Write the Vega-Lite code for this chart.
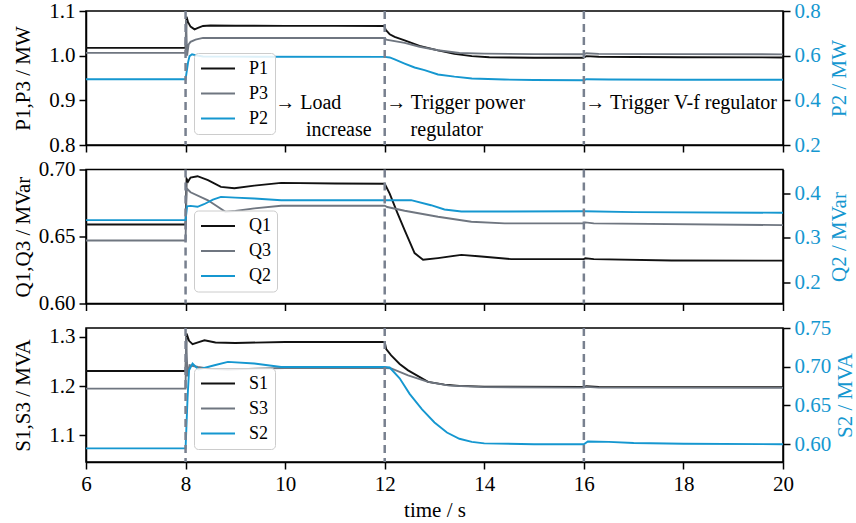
{
  "$schema": "https://vega.github.io/schema/vega-lite/v6.json",
  "padding": {"left": 11, "top": -1, "right": 0, "bottom": 0},
  "bounds": "flush",
  "spacing": 24.5,
  "config": {
    "font": "Liberation Serif",
    "view": {"stroke": "#000", "strokeWidth": 1.5},
    "axis": {"grid": false, "domainColor": "#000", "domainWidth": 1.5, "tickColor": "#000", "tickWidth": 1.5, "tickSize": 7, "labelFont": "Liberation Serif", "labelFontSize": 21, "labelColor": "#000", "titleFont": "Liberation Serif", "titleFontSize": 21, "titleFontWeight": "normal", "titleColor": "#000", "labelPadding": 4},
    "line": {"strokeWidth": 1.9, "clip": true}
  },
  "datasets": {
    "events": [{"t": 8}, {"t": 12}, {"t": 16}],
    "notes": [
      {"t": 9.8, "v": 0.893, "label": "→ Load"},
      {"t": 10.42, "v": 0.8334, "label": "increase"},
      {"t": 12.03, "v": 0.893, "label": "→ Trigger power"},
      {"t": 12.52, "v": 0.8334, "label": "regulator"},
      {"t": 16.03, "v": 0.893, "label": "→ Trigger V-f regulator"}
    ],
    "pdata": [
      {"s": "P1", "t": 6, "v": 1.0174}, {"s": "P1", "t": 8.0, "v": 1.0174}, {"s": "P1", "t": 8.02, "v": 1.087}, {"s": "P1", "t": 8.05, "v": 1.075}, {"s": "P1", "t": 8.1, "v": 1.065}, {"s": "P1", "t": 8.18, "v": 1.059}, {"s": "P1", "t": 8.25, "v": 1.062}, {"s": "P1", "t": 8.35, "v": 1.0665}, {"s": "P1", "t": 8.5, "v": 1.0675}, {"s": "P1", "t": 9, "v": 1.067}, {"s": "P1", "t": 10, "v": 1.0668}, {"s": "P1", "t": 11, "v": 1.0666}, {"s": "P1", "t": 11.99, "v": 1.0665}, {"s": "P1", "t": 12.02, "v": 1.058}, {"s": "P1", "t": 12.1, "v": 1.048}, {"s": "P1", "t": 12.2, "v": 1.042}, {"s": "P1", "t": 12.4, "v": 1.034}, {"s": "P1", "t": 12.7, "v": 1.022}, {"s": "P1", "t": 13.07, "v": 1.012}, {"s": "P1", "t": 13.4, "v": 1.004}, {"s": "P1", "t": 13.75, "v": 0.999}, {"s": "P1", "t": 14.1, "v": 0.9965}, {"s": "P1", "t": 14.5, "v": 0.9958}, {"s": "P1", "t": 15, "v": 0.9955}, {"s": "P1", "t": 15.99, "v": 0.9955}, {"s": "P1", "t": 16.05, "v": 0.999}, {"s": "P1", "t": 16.3, "v": 0.9975}, {"s": "P1", "t": 17, "v": 0.997}, {"s": "P1", "t": 18, "v": 0.9965}, {"s": "P1", "t": 20, "v": 0.996},
      {"s": "P3", "t": 6, "v": 1.0062}, {"s": "P3", "t": 8.0, "v": 1.0062}, {"s": "P3", "t": 8.01, "v": 1.08}, {"s": "P3", "t": 8.03, "v": 1.0}, {"s": "P3", "t": 8.06, "v": 1.025}, {"s": "P3", "t": 8.1, "v": 1.031}, {"s": "P3", "t": 8.2, "v": 1.036}, {"s": "P3", "t": 8.35, "v": 1.0397}, {"s": "P3", "t": 12, "v": 1.0397}, {"s": "P3", "t": 12.03, "v": 1.036}, {"s": "P3", "t": 12.4, "v": 1.0286}, {"s": "P3", "t": 12.7, "v": 1.02}, {"s": "P3", "t": 13.07, "v": 1.012}, {"s": "P3", "t": 13.5, "v": 1.006}, {"s": "P3", "t": 14, "v": 1.0045}, {"s": "P3", "t": 15, "v": 1.0035}, {"s": "P3", "t": 16, "v": 1.0032}, {"s": "P3", "t": 16.05, "v": 1.0055}, {"s": "P3", "t": 16.3, "v": 1.004}, {"s": "P3", "t": 20, "v": 1.003},
      {"s": "P2", "t": 6, "v": 0.4947}, {"s": "P2", "t": 8.0, "v": 0.4947}, {"s": "P2", "t": 8.05, "v": 0.57}, {"s": "P2", "t": 8.08, "v": 0.598}, {"s": "P2", "t": 8.13, "v": 0.606}, {"s": "P2", "t": 8.2, "v": 0.602}, {"s": "P2", "t": 8.35, "v": 0.596}, {"s": "P2", "t": 9, "v": 0.5955}, {"s": "P2", "t": 12, "v": 0.5946}, {"s": "P2", "t": 12.1, "v": 0.592}, {"s": "P2", "t": 12.2, "v": 0.583}, {"s": "P2", "t": 12.4, "v": 0.5647}, {"s": "P2", "t": 12.6, "v": 0.547}, {"s": "P2", "t": 12.8, "v": 0.535}, {"s": "P2", "t": 13.07, "v": 0.5156}, {"s": "P2", "t": 13.4, "v": 0.506}, {"s": "P2", "t": 13.75, "v": 0.498}, {"s": "P2", "t": 14.4, "v": 0.493}, {"s": "P2", "t": 15, "v": 0.491}, {"s": "P2", "t": 16, "v": 0.49}, {"s": "P2", "t": 16.05, "v": 0.4945}, {"s": "P2", "t": 16.5, "v": 0.493}, {"s": "P2", "t": 18, "v": 0.492}, {"s": "P2", "t": 20, "v": 0.492}
    ],
    "qdata": [
      {"s": "Q1", "t": 6, "v": 0.659}, {"s": "Q1", "t": 8.0, "v": 0.659}, {"s": "Q1", "t": 8.02, "v": 0.693}, {"s": "Q1", "t": 8.05, "v": 0.691}, {"s": "Q1", "t": 8.1, "v": 0.694}, {"s": "Q1", "t": 8.24, "v": 0.695}, {"s": "Q1", "t": 8.45, "v": 0.692}, {"s": "Q1", "t": 8.71, "v": 0.687}, {"s": "Q1", "t": 8.98, "v": 0.686}, {"s": "Q1", "t": 9.38, "v": 0.688}, {"s": "Q1", "t": 9.92, "v": 0.69}, {"s": "Q1", "t": 11, "v": 0.6895}, {"s": "Q1", "t": 12, "v": 0.6894}, {"s": "Q1", "t": 12.1, "v": 0.682}, {"s": "Q1", "t": 12.25, "v": 0.668}, {"s": "Q1", "t": 12.4, "v": 0.6548}, {"s": "Q1", "t": 12.6, "v": 0.6376}, {"s": "Q1", "t": 12.77, "v": 0.6326}, {"s": "Q1", "t": 13.07, "v": 0.6339}, {"s": "Q1", "t": 13.54, "v": 0.6363}, {"s": "Q1", "t": 13.94, "v": 0.6351}, {"s": "Q1", "t": 14.54, "v": 0.6331}, {"s": "Q1", "t": 16, "v": 0.6331}, {"s": "Q1", "t": 16.03, "v": 0.6338}, {"s": "Q1", "t": 16.2, "v": 0.6331}, {"s": "Q1", "t": 17.76, "v": 0.6321}, {"s": "Q1", "t": 20, "v": 0.632},
      {"s": "Q3", "t": 6, "v": 0.647}, {"s": "Q3", "t": 8.0, "v": 0.647}, {"s": "Q3", "t": 8.02, "v": 0.686}, {"s": "Q3", "t": 8.1, "v": 0.683}, {"s": "Q3", "t": 8.45, "v": 0.677}, {"s": "Q3", "t": 8.8, "v": 0.6684}, {"s": "Q3", "t": 9.0, "v": 0.669}, {"s": "Q3", "t": 9.38, "v": 0.671}, {"s": "Q3", "t": 9.92, "v": 0.673}, {"s": "Q3", "t": 12, "v": 0.673}, {"s": "Q3", "t": 12.05, "v": 0.672}, {"s": "Q3", "t": 12.4, "v": 0.6692}, {"s": "Q3", "t": 13.07, "v": 0.6647}, {"s": "Q3", "t": 13.74, "v": 0.661}, {"s": "Q3", "t": 14.41, "v": 0.6598}, {"s": "Q3", "t": 16, "v": 0.6598}, {"s": "Q3", "t": 16.03, "v": 0.6605}, {"s": "Q3", "t": 16.2, "v": 0.6598}, {"s": "Q3", "t": 20, "v": 0.6585},
      {"s": "Q2", "t": 6, "v": 0.34}, {"s": "Q2", "t": 8.0, "v": 0.34}, {"s": "Q2", "t": 8.03, "v": 0.371}, {"s": "Q2", "t": 8.1, "v": 0.372}, {"s": "Q2", "t": 8.24, "v": 0.37}, {"s": "Q2", "t": 8.37, "v": 0.3757}, {"s": "Q2", "t": 8.55, "v": 0.386}, {"s": "Q2", "t": 8.71, "v": 0.3923}, {"s": "Q2", "t": 9.0, "v": 0.3905}, {"s": "Q2", "t": 9.38, "v": 0.3885}, {"s": "Q2", "t": 9.92, "v": 0.3847}, {"s": "Q2", "t": 12, "v": 0.3847}, {"s": "Q2", "t": 12.53, "v": 0.385}, {"s": "Q2", "t": 12.93, "v": 0.3735}, {"s": "Q2", "t": 13.2, "v": 0.3638}, {"s": "Q2", "t": 13.54, "v": 0.3594}, {"s": "Q2", "t": 14, "v": 0.3594}, {"s": "Q2", "t": 16, "v": 0.3598}, {"s": "Q2", "t": 17, "v": 0.358}, {"s": "Q2", "t": 20, "v": 0.3565}
    ],
    "sdata": [
      {"s": "S1", "t": 6, "v": 1.2308}, {"s": "S1", "t": 8.0, "v": 1.2308}, {"s": "S1", "t": 8.02, "v": 1.3066}, {"s": "S1", "t": 8.07, "v": 1.292}, {"s": "S1", "t": 8.14, "v": 1.285}, {"s": "S1", "t": 8.25, "v": 1.289}, {"s": "S1", "t": 8.38, "v": 1.293}, {"s": "S1", "t": 8.6, "v": 1.2885}, {"s": "S1", "t": 9, "v": 1.2876}, {"s": "S1", "t": 10, "v": 1.2896}, {"s": "S1", "t": 12, "v": 1.2896}, {"s": "S1", "t": 12.03, "v": 1.275}, {"s": "S1", "t": 12.13, "v": 1.2626}, {"s": "S1", "t": 12.3, "v": 1.245}, {"s": "S1", "t": 12.47, "v": 1.232}, {"s": "S1", "t": 12.87, "v": 1.2085}, {"s": "S1", "t": 13.2, "v": 1.203}, {"s": "S1", "t": 13.5, "v": 1.2005}, {"s": "S1", "t": 14, "v": 1.199}, {"s": "S1", "t": 16, "v": 1.1985}, {"s": "S1", "t": 16.05, "v": 1.2}, {"s": "S1", "t": 16.3, "v": 1.1985}, {"s": "S1", "t": 20, "v": 1.198},
      {"s": "S3", "t": 6, "v": 1.195}, {"s": "S3", "t": 8.0, "v": 1.195}, {"s": "S3", "t": 8.01, "v": 1.3}, {"s": "S3", "t": 8.04, "v": 1.22}, {"s": "S3", "t": 8.08, "v": 1.2424}, {"s": "S3", "t": 8.25, "v": 1.2389}, {"s": "S3", "t": 8.5, "v": 1.235}, {"s": "S3", "t": 8.85, "v": 1.2336}, {"s": "S3", "t": 9.4, "v": 1.2355}, {"s": "S3", "t": 10, "v": 1.2369}, {"s": "S3", "t": 12, "v": 1.2369}, {"s": "S3", "t": 12.13, "v": 1.236}, {"s": "S3", "t": 12.47, "v": 1.222}, {"s": "S3", "t": 12.87, "v": 1.2085}, {"s": "S3", "t": 13.3, "v": 1.201}, {"s": "S3", "t": 14, "v": 1.198}, {"s": "S3", "t": 16, "v": 1.197}, {"s": "S3", "t": 16.05, "v": 1.1985}, {"s": "S3", "t": 16.3, "v": 1.197}, {"s": "S3", "t": 20, "v": 1.1965},
      {"s": "S2", "t": 6, "v": 0.5946}, {"s": "S2", "t": 8.0, "v": 0.5946}, {"s": "S2", "t": 8.04, "v": 0.66}, {"s": "S2", "t": 8.07, "v": 0.6955}, {"s": "S2", "t": 8.14, "v": 0.7041}, {"s": "S2", "t": 8.26, "v": 0.6964}, {"s": "S2", "t": 8.58, "v": 0.7019}, {"s": "S2", "t": 8.85, "v": 0.7062}, {"s": "S2", "t": 9.38, "v": 0.7041}, {"s": "S2", "t": 9.92, "v": 0.6997}, {"s": "S2", "t": 12, "v": 0.6997}, {"s": "S2", "t": 12.1, "v": 0.699}, {"s": "S2", "t": 12.3, "v": 0.685}, {"s": "S2", "t": 12.5, "v": 0.665}, {"s": "S2", "t": 12.75, "v": 0.645}, {"s": "S2", "t": 13.0, "v": 0.628}, {"s": "S2", "t": 13.25, "v": 0.615}, {"s": "S2", "t": 13.5, "v": 0.607}, {"s": "S2", "t": 13.75, "v": 0.603}, {"s": "S2", "t": 14, "v": 0.601}, {"s": "S2", "t": 15, "v": 0.6}, {"s": "S2", "t": 16, "v": 0.6}, {"s": "S2", "t": 16.08, "v": 0.6035}, {"s": "S2", "t": 16.5, "v": 0.603}, {"s": "S2", "t": 17, "v": 0.6015}, {"s": "S2", "t": 18, "v": 0.6005}, {"s": "S2", "t": 20, "v": 0.6}
    ]
  },
  "vconcat": [
    {
      "width": 697, "height": 134,
      "encoding": {"x": {"field": "t", "type": "quantitative", "scale": {"domain": [6, 20]}, "axis": {"values": [6, 8, 10, 12, 14, 16, 18, 20], "labels": false, "title": null}}},
      "layer": [
        {"data": {"name": "pdata"}, "transform": [{"filter": "datum.s !== 'P2'"}], "mark": "line",
         "encoding": {
           "y": {"field": "v", "type": "quantitative", "scale": {"domain": [0.8, 1.1]}, "axis": {"orient": "left", "title": "P1,P3 / MW", "values": [0.8, 0.9, 1.0, 1.1], "format": ".1f", "titleX": -63, "titleY": 67, "titleBaseline": "middle"}},
           "color": {"field": "s", "type": "nominal", "scale": {"domain": ["P1", "P3", "P2"], "range": ["#111111", "#6f7680", "#1597d0"]},
             "legend": {"orient": "none", "legendX": 108, "legendY": 42, "title": null, "symbolType": "M-1,0H3", "symbolSize": 289, "symbolStrokeWidth": 2, "labelFont": "Liberation Serif", "labelFontSize": 18, "labelColor": "#000", "rowPadding": 6, "padding": 6, "strokeColor": "#cccccc", "fillColor": "rgba(255,255,255,0.85)", "cornerRadius": 4, "labelOffset": 30}}
         }},
        {"data": {"name": "pdata"}, "transform": [{"filter": "datum.s === 'P2'"}], "mark": "line",
         "encoding": {
           "y": {"field": "v", "type": "quantitative", "scale": {"domain": [0.2, 0.8]}, "axis": {"orient": "right", "title": "P2 / MW", "values": [0.2, 0.4, 0.6, 0.8], "format": ".1f", "labelColor": "#1597d0", "titleColor": "#1597d0", "titleAngle": 270, "titleX": 56, "titleY": 67, "titleBaseline": "middle"}},
           "color": {"field": "s", "type": "nominal", "scale": {"domain": ["P1", "P3", "P2"], "range": ["#111111", "#6f7680", "#1597d0"]}}
         }},
        {"data": {"name": "events"}, "mark": {"type": "rule", "strokeDash": [8, 5], "color": "#78808f", "strokeWidth": 2.5}, "encoding": {}},
        {"data": {"name": "notes"}, "mark": {"type": "text", "align": "left", "baseline": "middle", "fontSize": 20, "font": "Liberation Serif", "color": "#000"},
         "encoding": {"y": {"field": "v", "type": "quantitative", "scale": {"domain": [0.8, 1.1]}, "axis": null}, "text": {"field": "label"}}}
      ],
      "resolve": {"scale": {"y": "independent"}}
    },
    {
      "width": 697, "height": 134,
      "encoding": {"x": {"field": "t", "type": "quantitative", "scale": {"domain": [6, 20]}, "axis": {"values": [6, 8, 10, 12, 14, 16, 18, 20], "labels": false, "title": null}}},
      "layer": [
        {"data": {"name": "qdata"}, "transform": [{"filter": "datum.s !== 'Q2'"}], "mark": "line",
         "encoding": {
           "y": {"field": "v", "type": "quantitative", "scale": {"domain": [0.6, 0.7]}, "axis": {"orient": "left", "title": "Q1,Q3 / MVar", "values": [0.6, 0.65, 0.7], "format": ".2f", "titleX": -63, "titleY": 67, "titleBaseline": "middle"}},
           "color": {"field": "s", "type": "nominal", "scale": {"domain": ["Q1", "Q3", "Q2"], "range": ["#111111", "#6f7680", "#1597d0"]},
             "legend": {"orient": "none", "legendX": 108, "legendY": 41, "title": null, "symbolType": "M-1,0H3", "symbolSize": 289, "symbolStrokeWidth": 2, "labelFont": "Liberation Serif", "labelFontSize": 18, "labelColor": "#000", "rowPadding": 6, "padding": 6, "strokeColor": "#cccccc", "fillColor": "rgba(255,255,255,0.85)", "cornerRadius": 4, "labelOffset": 30}}
         }},
        {"data": {"name": "qdata"}, "transform": [{"filter": "datum.s === 'Q2'"}], "mark": "line",
         "encoding": {
           "y": {"field": "v", "type": "quantitative", "scale": {"domain": [0.152, 0.454]}, "axis": {"orient": "right", "title": "Q2 / MVar", "values": [0.2, 0.3, 0.4], "format": ".1f", "labelColor": "#1597d0", "titleColor": "#1597d0", "titleAngle": 270, "titleX": 56, "titleY": 67, "titleBaseline": "middle"}},
           "color": {"field": "s", "type": "nominal", "scale": {"domain": ["Q1", "Q3", "Q2"], "range": ["#111111", "#6f7680", "#1597d0"]}}
         }},
        {"data": {"name": "events"}, "mark": {"type": "rule", "strokeDash": [8, 5], "color": "#78808f", "strokeWidth": 2.5}, "encoding": {}}
      ],
      "resolve": {"scale": {"y": "independent"}}
    },
    {
      "width": 697, "height": 134,
      "encoding": {"x": {"field": "t", "type": "quantitative", "scale": {"domain": [6, 20]}, "axis": {"values": [6, 8, 10, 12, 14, 16, 18, 20], "title": "time / s", "titlePadding": 5, "labelFlush": false}}},
      "layer": [
        {"data": {"name": "sdata"}, "transform": [{"filter": "datum.s !== 'S2'"}], "mark": "line",
         "encoding": {
           "y": {"field": "v", "type": "quantitative", "scale": {"domain": [1.046, 1.318]}, "axis": {"orient": "left", "title": "S1,S3 / MVA", "values": [1.1, 1.2, 1.3], "format": ".1f", "titleX": -63, "titleY": 67, "titleBaseline": "middle"}},
           "color": {"field": "s", "type": "nominal", "scale": {"domain": ["S1", "S3", "S2"], "range": ["#111111", "#6f7680", "#1597d0"]},
             "legend": {"orient": "none", "legendX": 108, "legendY": 40, "title": null, "symbolType": "M-1,0H3", "symbolSize": 289, "symbolStrokeWidth": 2, "labelFont": "Liberation Serif", "labelFontSize": 18, "labelColor": "#000", "rowPadding": 6, "padding": 6, "strokeColor": "#cccccc", "fillColor": "rgba(255,255,255,0.85)", "cornerRadius": 4, "labelOffset": 30}}
         }},
        {"data": {"name": "sdata"}, "transform": [{"filter": "datum.s === 'S2'"}], "mark": "line",
         "encoding": {
           "y": {"field": "v", "type": "quantitative", "scale": {"domain": [0.577, 0.75]}, "axis": {"orient": "right", "title": "S2 / MVA", "values": [0.6, 0.65, 0.7, 0.75], "format": ".2f", "labelColor": "#1597d0", "titleColor": "#1597d0", "titleAngle": 270, "titleX": 62, "titleY": 67, "titleBaseline": "middle"}},
           "color": {"field": "s", "type": "nominal", "scale": {"domain": ["S1", "S3", "S2"], "range": ["#111111", "#6f7680", "#1597d0"]}}
         }},
        {"data": {"name": "events"}, "mark": {"type": "rule", "strokeDash": [8, 5], "color": "#78808f", "strokeWidth": 2.5}, "encoding": {}}
      ],
      "resolve": {"scale": {"y": "independent"}}
    }
  ],
  "resolve": {"scale": {"color": "independent"}, "legend": {"color": "independent"}}
}
